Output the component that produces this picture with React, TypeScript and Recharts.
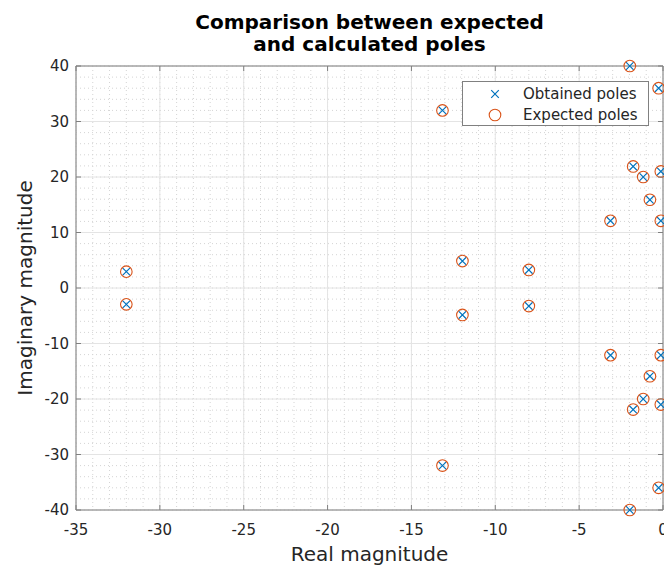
import React from 'react';
import { ScatterChart, Scatter, XAxis, YAxis, CartesianGrid, ReferenceLine } from 'recharts';

// Poles (conjugate pairs); obtained and expected coincide
const poleRe = [-32, -32, -13.15, -13.15, -11.96, -11.96, -8.0, -8.0, -3.13, -3.13, -1.98, -1.98,
  -1.78, -1.78, -1.18, -1.18, -0.78, -0.78, -0.26, -0.26, -0.13, -0.13, -0.13, -0.13];
const poleIm = [2.95, -2.95, 32, -32, 4.85, -4.85, 3.25, -3.25, 12.1, -12.1, 40, -40,
  21.9, -21.9, 20, -20, 15.9, -15.9, 36, -36, 21, -21, 12.1, -12.1];

const xTicks = [-35, -30, -25, -20, -15, -10, -5, 0];
const yTicks = [-40, -30, -20, -10, 0, 10, 20, 30, 40];
const seriesNames = ['Obtained poles', 'Expected poles'];

const xMinor: number[] = [];
for (let v = -35; v <= 0; v += 1) xMinor.push(v);
const yMinor: number[] = [];
for (let v = -40; v <= 40; v += 2) yMinor.push(v);

const obtained = poleRe.map((re, i) => ({ re, im: poleIm[i] }));
const expected = poleRe.map((re, i) => ({ re, im: poleIm[i] }));

const BLUE = '#0072BD';
const ORANGE = '#D95319';
const AXIS = '#808080';
const TEXT = '#262626';
const FONT = '"DejaVu Sans", sans-serif';
const PLOT_TOP = 66;
const PLOT_RIGHT = 663;

const XTick = (props: any) => {
  const { x, y, payload } = props;
  return (
    <g>
      <line x1={x} x2={x} y1={y} y2={y - 5} stroke={AXIS} />
      <line x1={x} x2={x} y1={PLOT_TOP} y2={PLOT_TOP + 5} stroke={AXIS} />
      <text x={x} y={y + 25} textAnchor="middle" fontSize={15} fill={TEXT} fontFamily={FONT}>
        {payload.value}
      </text>
    </g>
  );
};

const YTick = (props: any) => {
  const { x, y, payload } = props;
  return (
    <g>
      <line x1={x} x2={x + 5} y1={y} y2={y} stroke={AXIS} />
      <line x1={PLOT_RIGHT} x2={PLOT_RIGHT - 5} y1={y} y2={y} stroke={AXIS} />
      <text x={x - 7} y={y + 5} textAnchor="end" fontSize={15} fill={TEXT} fontFamily={FONT}>
        {payload.value}
      </text>
    </g>
  );
};

const Cross = (props: any) => {
  const { cx, cy } = props;
  const s = 3.8;
  return (
    <path
      d={`M${cx - s},${cy - s}L${cx + s},${cy + s}M${cx - s},${cy + s}L${cx + s},${cy - s}`}
      stroke={BLUE}
      strokeWidth={1.2}
      fill="none"
    />
  );
};

const Ring = (props: any) => {
  const { cx, cy } = props;
  return <circle cx={cx} cy={cy} r={5.8} stroke={ORANGE} strokeWidth={1.1} fill="none" />;
};

const App = () => {
  return (
    <div style={{ position: 'absolute', left: 0, top: 0, width: 664, height: 567, background: '#fff' }}>
      <div
        style={{
          position: 'absolute', left: 76, width: 587, top: 11, textAlign: 'center',
          fontFamily: FONT, fontWeight: 'bold', fontSize: 20, lineHeight: '22px', color: '#000',
        }}
      >
        Comparison between expected
        <br />
        and calculated poles
      </div>

      <ScatterChart width={664} height={567} margin={{ top: 66, right: 1, bottom: 0, left: 0 }}>
        <CartesianGrid stroke="#d4d4d4" strokeDasharray="1 3" horizontalValues={yMinor} verticalValues={xMinor} />
        <CartesianGrid stroke="#e4e4e4" horizontalValues={yTicks} verticalValues={xTicks} />
        <XAxis
          type="number"
          dataKey="re"
          domain={[-35, 0]}
          ticks={xTicks}
          interval={0}
          height={57}
          tickSize={0}
          tickMargin={0}
          tickLine={false}
          axisLine={{ stroke: AXIS }}
          tick={XTick}
          label={{
            position: 'center',
            content: ({ viewBox }: any) => (
              <text x={viewBox.x + viewBox.width / 2} y={viewBox.y + 51} textAnchor="middle"
                fontSize={20} fill={TEXT} fontFamily={FONT}>
                Real magnitude
              </text>
            ),
          }}
        />
        <YAxis
          type="number"
          dataKey="im"
          domain={[-40, 40]}
          ticks={yTicks}
          interval={0}
          width={76}
          tickSize={0}
          tickMargin={0}
          tickLine={false}
          axisLine={{ stroke: AXIS }}
          tick={YTick}
          label={{
            position: 'center',
            content: ({ viewBox }: any) => {
              const cx = viewBox.x + 25;
              const cy = viewBox.y + viewBox.height / 2;
              return (
                <text x={cx} y={cy} textAnchor="middle" dominantBaseline="central"
                  transform={`rotate(-90, ${cx}, ${cy})`} fontSize={20} fill={TEXT} fontFamily={FONT}>
                  Imaginary magnitude
                </text>
              );
            },
          }}
        />
        <ReferenceLine y={40} stroke={AXIS} />
        <ReferenceLine x={0} stroke={AXIS} />
        <Scatter name={seriesNames[0]} data={obtained} shape={Cross} isAnimationActive={false} />
        <Scatter name={seriesNames[1]} data={expected} shape={Ring} isAnimationActive={false} />
      </ScatterChart>

      <div
        style={{
          position: 'absolute', left: 462, top: 81, width: 187, height: 45, boxSizing: 'border-box',
          border: `1px solid ${AXIS}`, background: '#fff', fontFamily: FONT, fontSize: 15, color: TEXT,
        }}
      >
        {seriesNames.map((name, i) => (
          <div key={name} style={{ position: 'absolute', left: 0, top: 2 + i * 21, height: 20, display: 'flex', alignItems: 'center' }}>
            <svg width={60} height={20}>
              {i === 0 ? <Cross cx={32} cy={10} /> : <Ring cx={32} cy={10} />}
            </svg>
            <span>{name}</span>
          </div>
        ))}
      </div>
    </div>
  );
};

export default App;
